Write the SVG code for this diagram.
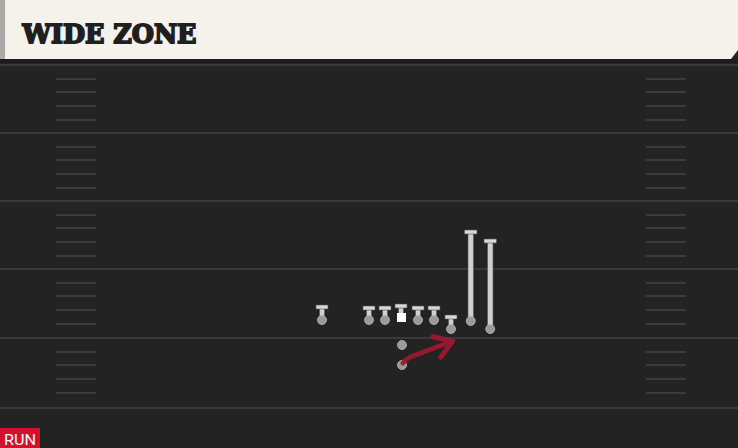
<svg xmlns="http://www.w3.org/2000/svg" width="738" height="448" viewBox="0 0 738 448">
<defs>
<style>
.fl{stroke:#393939;stroke-width:2}
.hm{stroke:#3b3b3b;stroke-width:2}
.bar{fill:#d8d8d8;stroke:#505050;stroke-width:0.6}
.stem{fill:#d0d0d0;stroke:#505050;stroke-width:0.6}
.dot{fill:#9a9a9a;stroke:#b8b8b8;stroke-width:0.8}
.route{fill:none;stroke:#9e1830;stroke-width:5;stroke-linecap:round;stroke-linejoin:round}
</style>
<marker id="ah" markerWidth="6" markerHeight="6" refX="3.2" refY="3" orient="auto" markerUnits="strokeWidth">
<path d="M0.6,0.8 L4,3 L0.6,5.2" fill="none" stroke="#9e1830" stroke-width="1" stroke-linecap="round" stroke-linejoin="round"/>
</marker>
</defs>
<rect width="738" height="448" fill="#232323"/>
<rect x="0" y="59" width="738" height="4" fill="#1b1b1b"/>
<g id="field">
<line class="fl" x1="0" y1="65" x2="738" y2="65"/>
<line class="fl" x1="0" y1="133" x2="738" y2="133"/>
<line class="fl" x1="0" y1="201" x2="738" y2="201"/>
<line class="fl" x1="0" y1="269" x2="738" y2="269"/>
<line class="fl" x1="0" y1="338" x2="738" y2="338"/>
<line class="fl" x1="0" y1="408" x2="738" y2="408"/>
<g id="hash-left">
<line class="hm" x1="56" y1="79" x2="96" y2="79"/><line class="hm" x1="56" y1="92" x2="96" y2="92"/><line class="hm" x1="56" y1="106" x2="96" y2="106"/><line class="hm" x1="56" y1="120" x2="96" y2="120"/>
<line class="hm" x1="56" y1="147" x2="96" y2="147"/><line class="hm" x1="56" y1="160" x2="96" y2="160"/><line class="hm" x1="56" y1="174" x2="96" y2="174"/><line class="hm" x1="56" y1="188" x2="96" y2="188"/>
<line class="hm" x1="56" y1="215" x2="96" y2="215"/><line class="hm" x1="56" y1="228" x2="96" y2="228"/><line class="hm" x1="56" y1="242" x2="96" y2="242"/><line class="hm" x1="56" y1="256" x2="96" y2="256"/>
<line class="hm" x1="56" y1="283" x2="96" y2="283"/><line class="hm" x1="56" y1="296" x2="96" y2="296"/><line class="hm" x1="56" y1="310" x2="96" y2="310"/><line class="hm" x1="56" y1="324" x2="96" y2="324"/>
<line class="hm" x1="56" y1="352" x2="96" y2="352"/><line class="hm" x1="56" y1="365" x2="96" y2="365"/><line class="hm" x1="56" y1="379" x2="96" y2="379"/><line class="hm" x1="56" y1="393" x2="96" y2="393"/>
</g>
<g id="hash-right">
<line class="hm" x1="646" y1="79" x2="686" y2="79"/><line class="hm" x1="646" y1="92" x2="686" y2="92"/><line class="hm" x1="646" y1="106" x2="686" y2="106"/><line class="hm" x1="646" y1="120" x2="686" y2="120"/>
<line class="hm" x1="646" y1="147" x2="686" y2="147"/><line class="hm" x1="646" y1="160" x2="686" y2="160"/><line class="hm" x1="646" y1="174" x2="686" y2="174"/><line class="hm" x1="646" y1="188" x2="686" y2="188"/>
<line class="hm" x1="646" y1="215" x2="686" y2="215"/><line class="hm" x1="646" y1="228" x2="686" y2="228"/><line class="hm" x1="646" y1="242" x2="686" y2="242"/><line class="hm" x1="646" y1="256" x2="686" y2="256"/>
<line class="hm" x1="646" y1="283" x2="686" y2="283"/><line class="hm" x1="646" y1="296" x2="686" y2="296"/><line class="hm" x1="646" y1="310" x2="686" y2="310"/><line class="hm" x1="646" y1="324" x2="686" y2="324"/>
<line class="hm" x1="646" y1="352" x2="686" y2="352"/><line class="hm" x1="646" y1="365" x2="686" y2="365"/><line class="hm" x1="646" y1="379" x2="686" y2="379"/><line class="hm" x1="646" y1="393" x2="686" y2="393"/>
</g>
</g>
<g id="header">
<polygon points="0,0 738,0 738,50 731,59 0,59" fill="#f4f2eb"/>
<rect x="0" y="0" width="5" height="59" fill="#a9aaa6"/>
<text x="22.5" y="42.5" font-family="'DejaVu Serif', serif" font-weight="bold" font-size="26" fill="#1f1f1f" stroke="#1f1f1f" stroke-width="1.8" stroke-linejoin="miter" textLength="174" lengthAdjust="spacingAndGlyphs">WIDE ZONE</text>
</g>
<g id="wr-left"><rect class="stem" x="319.5" y="307" width="5" height="13"/><rect class="bar" x="316" y="305" width="12" height="4"/><circle class="dot" cx="322" cy="320" r="4.5"/></g>
<g id="lt"><rect class="stem" x="366.5" y="308" width="5" height="12"/><rect class="bar" x="363" y="306" width="12" height="4"/><circle class="dot" cx="369" cy="320" r="4.5"/></g>
<g id="lg"><rect class="stem" x="382.5" y="308" width="5" height="12"/><rect class="bar" x="379" y="306" width="12" height="4"/><circle class="dot" cx="385" cy="320" r="4.5"/></g>
<g id="c"><rect class="stem" x="398.5" y="306" width="5" height="8"/><rect class="bar" x="395" y="304" width="12" height="4"/><rect x="397" y="313" width="9" height="9" fill="#ffffff"/></g>
<g id="rg"><rect class="stem" x="415.5" y="308" width="5" height="12"/><rect class="bar" x="412" y="306" width="12" height="4"/><circle class="dot" cx="418" cy="320" r="4.5"/></g>
<g id="rt"><rect class="stem" x="431.5" y="308" width="5" height="12"/><rect class="bar" x="428" y="306" width="12" height="4"/><circle class="dot" cx="434" cy="320" r="4.5"/></g>
<g id="te"><rect class="stem" x="448.5" y="317" width="5" height="12"/><rect class="bar" x="445" y="315" width="12" height="4"/><circle class="dot" cx="451" cy="329" r="4.5"/></g>
<g id="wr-slot"><rect class="stem" x="468" y="232" width="5.5" height="89"/><rect class="bar" x="464.5" y="230" width="12.5" height="4"/><circle class="dot" cx="470.75" cy="321" r="4.5"/></g>
<g id="wr-right"><rect class="stem" x="487.5" y="241" width="5.5" height="88"/><rect class="bar" x="484" y="239" width="12.5" height="4"/><circle class="dot" cx="490.25" cy="329" r="4.5"/></g>
<g id="qb"><circle class="dot" cx="402" cy="345" r="4.5"/></g>
<g id="rb"><circle class="dot" cx="402" cy="365" r="4.5"/></g>
<g id="connectors">
<path class="route" d="M403,363 Q407,358 414,355.5 L449,342.5" marker-end="url(#ah)" opacity="0.92"/>
</g>
<g id="tag">
<rect x="0" y="428" width="40" height="20" fill="#d4102c"/>
<text x="4" y="445" font-family="Roboto, 'Liberation Sans', sans-serif" font-size="15" fill="#ffffff" textLength="32" lengthAdjust="spacingAndGlyphs">RUN</text>
</g>
</svg>
